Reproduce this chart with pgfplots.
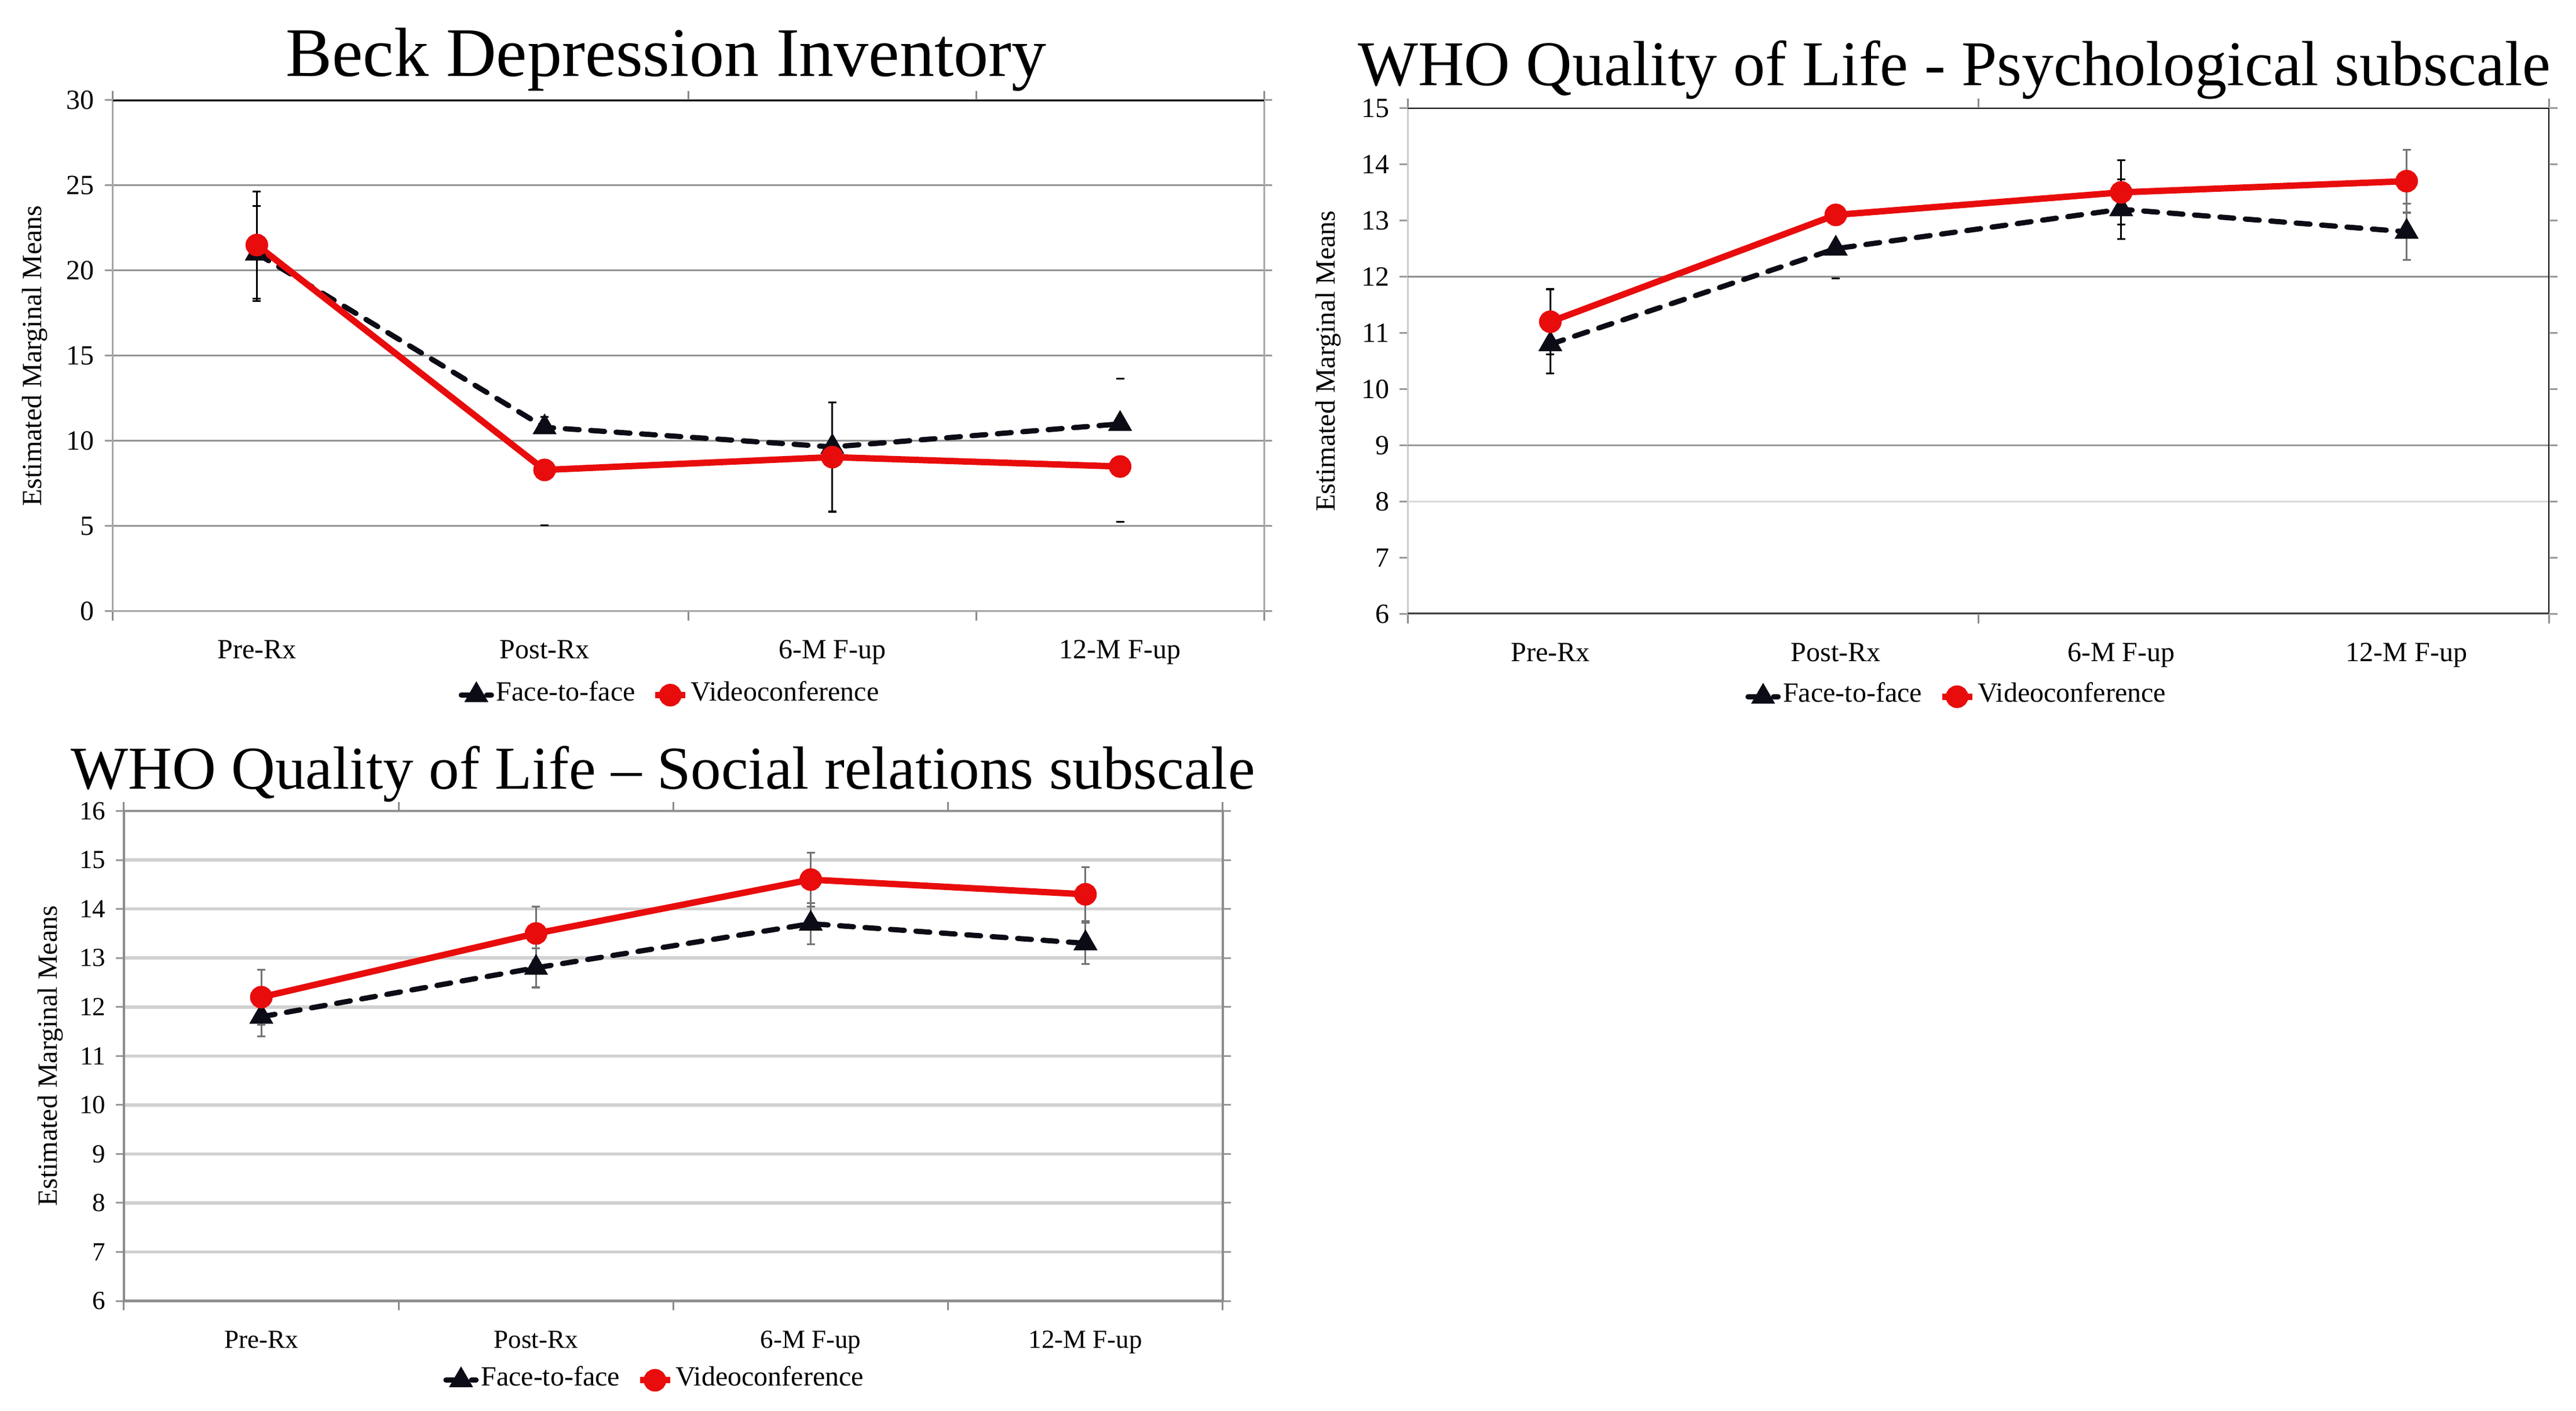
\documentclass[border=0pt]{standalone}
\usepackage{fontspec}
\setmainfont{Liberation Serif}
\usepackage{pgfplots}
\pgfplotsset{compat=1.18}

\definecolor{vred}{RGB}{232,12,12}
\definecolor{f2f}{RGB}{12,12,22}

\newcommand{\smallf}{\fontsize{4.8}{5.4}\selectfont}

\pgfplotsset{
  emm/.style={
    scale only axis,
    xmin=-0.5, xmax=3.5,
    xtick={0,1,2,3},
    xticklabels={Pre-Rx,Post-Rx,6-M F-up,12-M F-up},
    /pgf/number format/assume math mode=true,
    tick align=outside,
    major x tick style={draw=none},
    minor x tick style={black!45, line width=0.3pt},
    minor tick length=1.6pt,
    major tick length=1.4pt,
    y tick style={black!40, line width=0.3pt},
    tick label style={font=\smallf},
    xticklabel style={anchor=base, yshift=-6.8pt, inner sep=0pt},
    yticklabel style={anchor=east, inner sep=0pt, xshift=-1.6pt},
    ylabel={Estimated Marginal Means},
    ylabel style={font=\smallf, anchor=center, rotate=0},
    legend style={draw=none, fill=none, font=\smallf, legend columns=2,
      inner sep=0pt, anchor=center,
      nodes={inner sep=0.4pt},
      /tikz/every even column/.append style={column sep=2.5pt}},
    legend image code/.code={\draw[mark repeat=2,mark phase=2]
      plot coordinates {(0pt,0pt)(2.6pt,0pt)(5.2pt,0pt)};},
  },
  f2fline/.style={f2f, line width=0.9pt, dash pattern=on 2.4pt off 2.0pt,
    line cap=round, mark=triangle*, mark size=1.5pt,
    mark options={solid, fill=f2f}},
  vline/.style={vred, line width=1.1pt, mark=*, mark size=1.4pt,
    mark options={solid, fill=vred}},
  ebar/.style={draw=none, mark=none, forget plot,
    error bars/.cd, y dir=both, y explicit,
    error bar style={#1, line width=0.32pt},
    error mark options={#1, rotate=90, mark size=0.7pt, line width=0.32pt}},
  ebar/.default=black,
  caps/.style={only marks, forget plot, mark=-, mark size=0.7pt,
    mark options={#1, line width=0.32pt}},
  caps/.default=black,
}

\begin{document}
\begin{tikzpicture}
\path[fill=white] (0pt,0pt) rectangle (444.7pt,243.5pt);

% ---------------- Panel 1: Beck ----------------
\begin{axis}[emm,
  at={(19.5pt,138.0pt)}, anchor=south west,
  width=198.7pt, height=88.2pt,
  ymin=0, ymax=30, ytick={0,5,...,30},
  ymajorgrids, major grid style={black!42, line width=0.3pt},
  axis line style={black!35, line width=0.3pt},
  minor xtick={-0.5,1.5,2.5,3.5},
  ylabel style={at={(axis description cs:-0.068,0.5)}},
  legend style={at={(0.484,-0.164)}},
]
\addplot[ebar] coordinates {(0,21.0) +- (0,2.8)};
\addplot[ebar] coordinates {(0,21.5) +- (0,3.15)};
\addplot[ebar] coordinates {(2,9.05) +- (0,3.2)};
\addplot[caps] coordinates {(1,11.4) (1,5.05) (3,13.65) (3,5.25)};
\addplot[f2fline] coordinates {(0,21.0) (1,10.8) (2,9.65) (3,11.0)};
\addplot[vline] coordinates {(0,21.5) (1,8.3) (2,9.05) (3,8.5)};
\draw[black, line width=0.4pt] (rel axis cs:0,1) -- (rel axis cs:1,1);
\legend{Face-to-face, Videoconference}
\end{axis}

% ---------------- Panel 2: WHO Psychological ----------------
\begin{axis}[emm,
  at={(243.0pt,137.5pt)}, anchor=south west,
  width=197.1pt, height=87.35pt,
  ymin=6, ymax=15, ytick={6,7,...,15},
  axis line style={black!20, line width=0.3pt},
  minor xtick={-0.5,1.5,3.5},
  ylabel style={at={(axis description cs:-0.0695,0.5)}},
  legend style={at={(0.481,-0.163)}},
]
\draw[black!45, line width=0.3pt] (axis cs:-0.5,12) -- (axis cs:3.5,12);
\draw[black!40, line width=0.3pt] (axis cs:-0.5,9) -- (axis cs:3.5,9);
\draw[black!15, line width=0.3pt] (axis cs:-0.5,8) -- (axis cs:3.5,8);
\addplot[ebar] coordinates {(0,11.2) +- (0,0.58)};
\addplot[ebar] coordinates {(0,10.8) +- (0,0.52)};
\addplot[ebar] coordinates {(2,13.5) +- (0,0.57)};
\addplot[ebar] coordinates {(2,13.2) +- (0,0.53)};
\addplot[ebar=black!55] coordinates {(3,13.7) +- (0,0.56)};
\addplot[ebar=black!55] coordinates {(3,12.8) +- (0,0.5)};
\addplot[caps] coordinates {(1,11.97)};
\addplot[f2fline] coordinates {(0,10.8) (1,12.5) (2,13.2) (3,12.8)};
\addplot[vline] coordinates {(0,11.2) (1,13.1) (2,13.5) (3,13.7)};
\draw[black, line width=0.4pt] (rel axis cs:0,1) -- (rel axis cs:1,1) -- (rel axis cs:1,0);
\draw[black!75, line width=0.5pt] (rel axis cs:0,0) -- (rel axis cs:1,0);
\legend{Face-to-face, Videoconference}
\end{axis}

% ---------------- Panel 3: WHO Social ----------------
\begin{axis}[emm,
  at={(21.4pt,19.0pt)}, anchor=south west,
  width=189.7pt, height=84.54pt,
  ymin=6, ymax=16, ytick={6,7,...,16},
  tick label style={font=\fontsize{4.5}{5}\selectfont},
  ymajorgrids, major grid style={black!18, line width=0.55pt},
  axis line style={black!45, line width=0.35pt},
  minor xtick={-0.5,0.5,1.5,2.5,3.5},
  ylabel style={at={(axis description cs:-0.067,0.5)}},
  legend style={at={(0.483,-0.162)}},
]
\addplot[ebar=black!55] coordinates {(0,12.2) +- (0,0.56)};
\addplot[ebar=black!55] coordinates {(1,13.5) +- (0,0.55)};
\addplot[ebar=black!55] coordinates {(2,14.6) +- (0,0.55)};
\addplot[ebar=black!55] coordinates {(3,14.3) +- (0,0.55)};
\addplot[ebar=black!55] coordinates {(0,11.8) +- (0,0.4)};
\addplot[ebar=black!55] coordinates {(1,12.8) +- (0,0.4)};
\addplot[ebar=black!55] coordinates {(2,13.7) +- (0,0.42)};
\addplot[ebar=black!55] coordinates {(3,13.3) +- (0,0.42)};
\addplot[f2fline] coordinates {(0,11.8) (1,12.8) (2,13.7) (3,13.3)};
\addplot[vline] coordinates {(0,12.2) (1,13.5) (2,14.6) (3,14.3)};
\legend{Face-to-face, Videoconference}
\end{axis}

% ---------------- Titles ----------------
\node[anchor=base, inner sep=0pt, font=\fontsize{12}{14}\selectfont] at (115.0pt,230.3pt) {Beck Depression Inventory};
\node[anchor=base, inner sep=0pt, font=\fontsize{11}{13}\selectfont] at (337.4pt,228.7pt) {WHO Quality of Life - Psychological subscale};
\node[anchor=base, inner sep=0pt, font=\fontsize{10.5}{12.5}\selectfont] at (114.45pt,107.3pt) {WHO Quality of Life – Social relations subscale};
\end{tikzpicture}
\end{document}
